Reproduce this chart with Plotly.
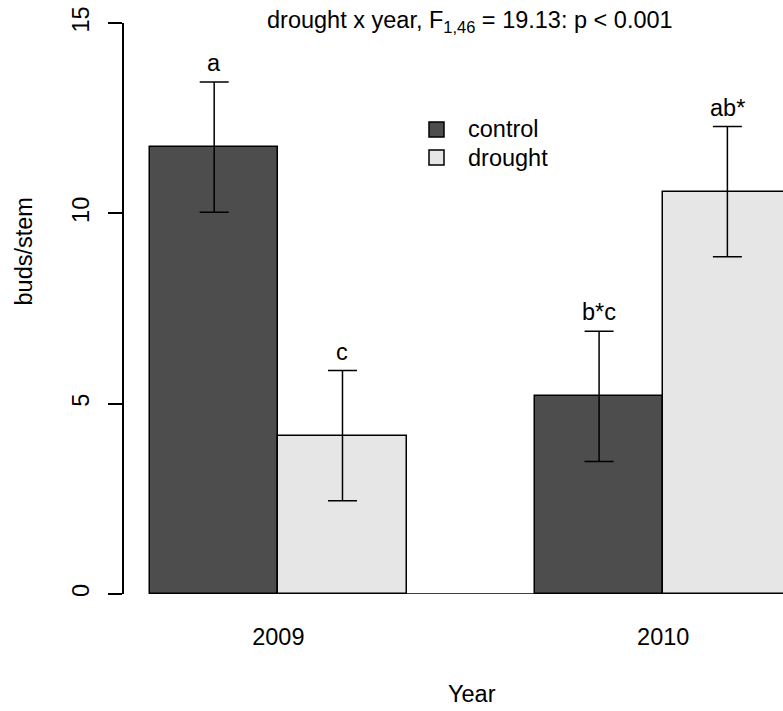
import plotly.graph_objects as go

# Buds per stem by year and treatment (means with standard errors)
years = ["2009", "2010"]
treatments = ["control", "drought"]
control_mean = [11.74, 5.19]
drought_mean = [4.16, 10.57]
control_se = [1.71, 1.71]
drought_se = [1.71, 1.71]
control_letters = ["a", "b*c"]
drought_letters = ["c", "ab*"]
title_text = "drought x year, F<sub>1,46</sub> = 19.13: p < 0.001"
y_ticks = [0, 5, 10, 15]

FONT = "Liberation Sans, Arial, Helvetica, sans-serif"
FS = 23.5
COLORS = {"control": "#4D4D4D", "drought": "#E6E6E6"}

W, H = 783, 711
L, R, T, B = 124, 0, 23, 117
plot_w = W - L - R
plot_h = H - T - B

# grouped bar layout: width 1, one bar-width gap between groups
group_centers = [2.0, 5.0]
ctrl_x = [c - 0.5 for c in group_centers]
drt_x = [c + 0.5 for c in group_centers]
x_lo = 0.797
x_hi = x_lo + plot_w / 128.3


def px_x(px):
    return (px - L) / plot_w


def px_y(py):
    return (H - B - py) / plot_h


fig = go.Figure()
for name, xs, means, ses in [
    ("control", ctrl_x, control_mean, control_se),
    ("drought", drt_x, drought_mean, drought_se),
]:
    fig.add_trace(go.Bar(
        x=xs, y=means, width=1.0, name=name,
        marker=dict(color=COLORS[name], line=dict(color="black", width=1.5)),
        error_y=dict(type="data", array=ses, visible=True,
                     color="black", thickness=1.5, width=14.5),
        showlegend=False,
    ))

# significance letters above the error bars
for xs, means, ses, letters in [
    (ctrl_x, control_mean, control_se, control_letters),
    (drt_x, drought_mean, drought_se, drought_letters),
]:
    for x, m, s, lab in zip(xs, means, ses, letters):
        fig.add_annotation(x=x, y=m + s, text=lab, showarrow=False,
                           yshift=19, yanchor="middle",
                           font=dict(family=FONT, size=FS, color="black"))

# baseline under the bars
fig.add_shape(type="line", x0=ctrl_x[0] - 0.5, x1=x_hi, y0=0, y1=0,
              line=dict(color="black", width=1.5), layer="above")

# legend boxes and labels
for i, name in enumerate(treatments):
    cy = 129.5 + 28 * i
    fig.add_shape(type="rect", xref="paper", yref="paper",
                  x0=px_x(429), x1=px_x(444), y0=px_y(cy + 7.5), y1=px_y(cy - 7.5),
                  fillcolor=COLORS[name], line=dict(color="black", width=1.5))
    fig.add_annotation(xref="paper", yref="paper", x=px_x(466), y=px_y(cy),
                       text=name, showarrow=False, xanchor="left", yanchor="middle",
                       font=dict(family=FONT, size=FS, color="black"))

# title and axis titles
fig.add_annotation(xref="paper", yref="paper", x=px_x(470), y=px_y(21),
                   text=title_text, showarrow=False, xanchor="center", yanchor="middle",
                   font=dict(family=FONT, size=FS, color="black"))
fig.add_annotation(xref="paper", yref="paper", x=px_x(471.5), y=px_y(694),
                   text="Year", showarrow=False, xanchor="center", yanchor="middle",
                   font=dict(family=FONT, size=FS, color="black"))
fig.add_annotation(xref="paper", yref="paper", x=px_x(24), y=px_y(251.5),
                   text="buds/stem", showarrow=False, textangle=-90,
                   xanchor="center", yanchor="middle",
                   font=dict(family=FONT, size=FS, color="black"))

fig.update_layout(
    width=W, height=H,
    margin=dict(l=L, r=R, t=T, b=B, pad=0),
    paper_bgcolor="white", plot_bgcolor="white",
    barmode="overlay", bargap=0,
    font=dict(family=FONT, size=FS, color="black"),
    xaxis=dict(range=[x_lo, x_hi], tickvals=group_centers, ticktext=years,
               showline=False, showgrid=False, zeroline=False, ticks="",
               ticklabelstandoff=26, tickfont=dict(family=FONT, size=FS, color="black")),
    yaxis=dict(range=[0, 15], tickvals=y_ticks, ticks="outside", ticklen=14,
               tickwidth=1.5, tickcolor="black", showline=True, linecolor="black",
               linewidth=1.5, showgrid=False, zeroline=False, tickangle=-90,
               ticklabelstandoff=10,
               tickfont=dict(family=FONT, size=FS, color="black")),
)

fig.write_html("out.html")
